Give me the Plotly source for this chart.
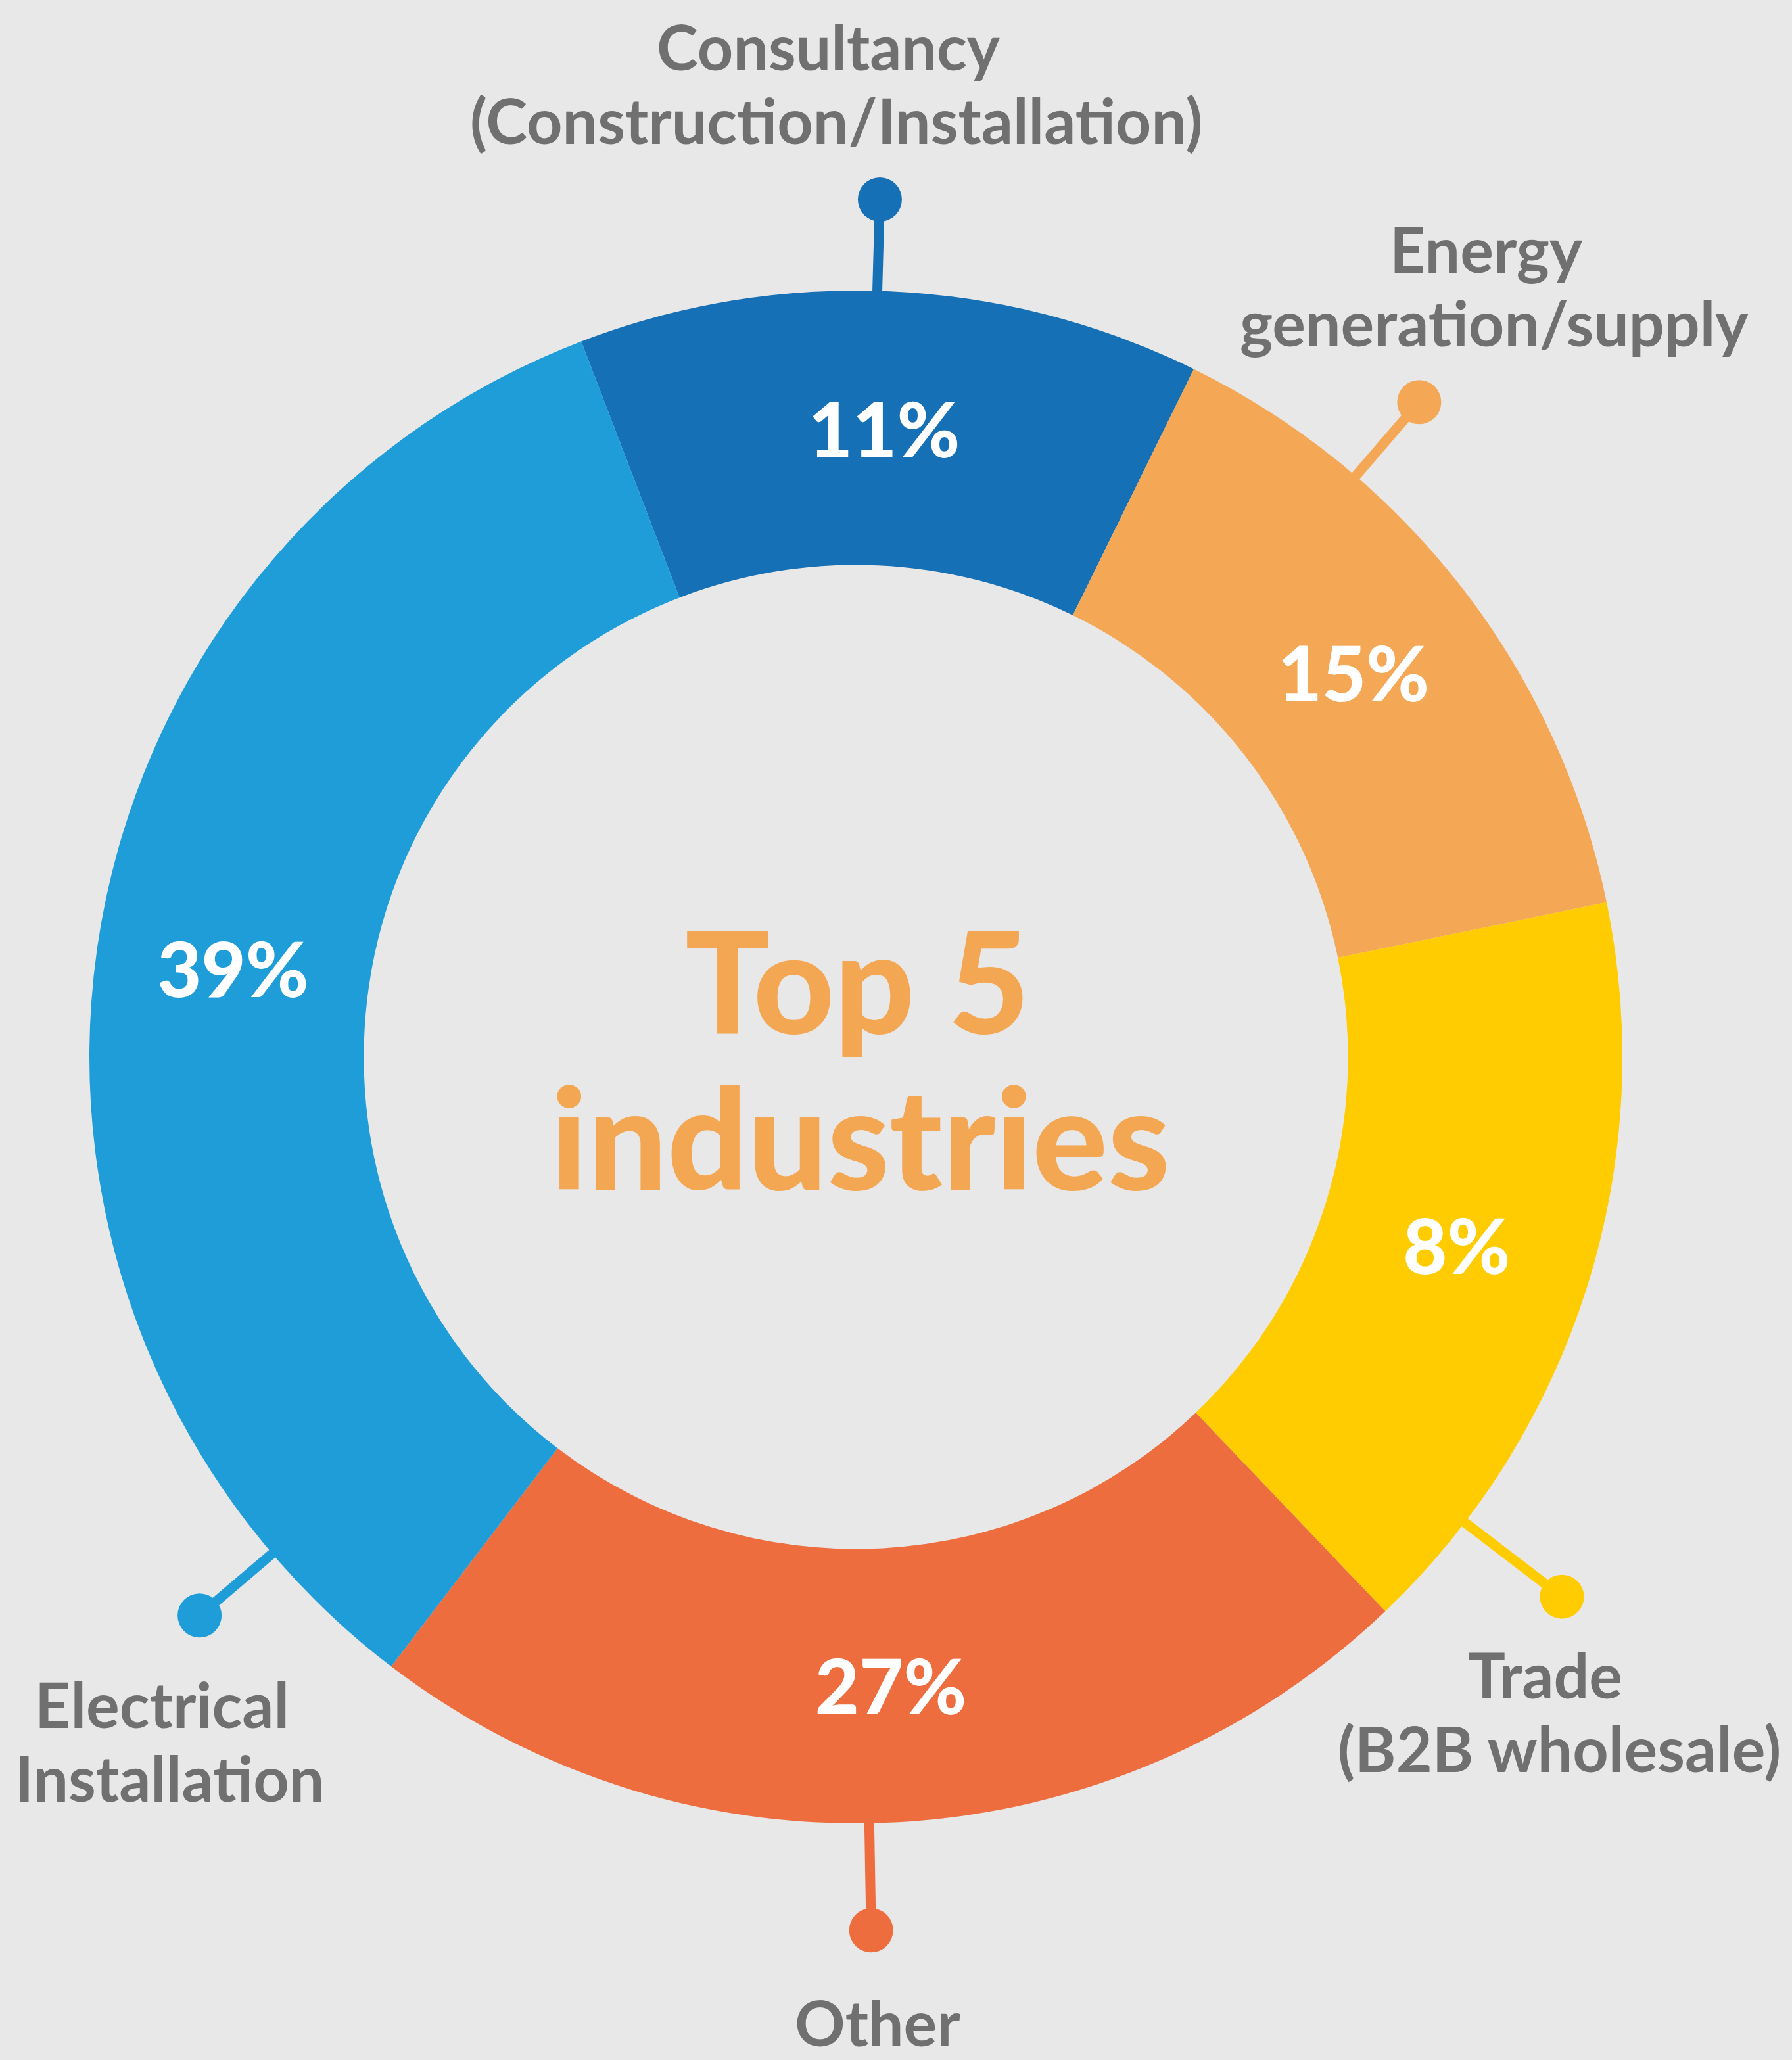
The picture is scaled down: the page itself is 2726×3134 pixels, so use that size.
import math
import plotly.graph_objects as go

# ---------------- data ----------------
industries = [
    "Consultancy (Construction/Installation)",
    "Energy generation/supply",
    "Trade (B2B wholesale)",
    "Other",
    "Electrical Installation",
]
share_labels = [11, 15, 8, 27, 39]              # percentages printed on the slices
slice_sizes = [13.1, 14.5, 16.1, 22.5, 33.8]     # arc shares as drawn in the picture
label_lines = [
    ["Consultancy", "(Construction/Installation)"],
    ["Energy", "generation/supply"],
    ["Trade", "(B2B wholesale)"],
    ["Other"],
    ["Electrical", "Installation"],
]
center_title = ["Top 5", "industries"]

# ---------------- styles / layout ----------------
colors = ["#1670B6", "#F4A754", "#FECC00", "#ED6D3E", "#1E9DD9"]
BG = "#E8E8E8"
GREY = "#707070"
ORANGE = "#F4A752"
FONT = "Lato"

W, H = 2726, 3134
CX, CY, R = 1302, 1608, 1166
HOLE = 0.642
START_DEG = -21.0

# callout geometry (angle clockwise from 12 o'clock, dot radius in px)
callout_angle = [1.6, 40.7, 127.4, 179.0, 229.6]
callout_radius = [1305, 1314, 1352, 1329, 1311]
# label line centres (x, y) in px
label_pos = [
    [(1260, 70), (1272, 182)],
    [(2261, 378), (2273, 490)],
    [(2350, 2547), (2372, 2659)],
    [(1335, 3076)],
    [(246, 2592), (258, 2704)],
]
center_pos = [(1304, 1489), (1309, 1727)]


def polar(angle_deg, r):
    a = math.radians(angle_deg)
    return CX + r * math.sin(a), CY - r * math.cos(a)


fig = go.Figure()

# donut
fig.add_trace(go.Pie(
    labels=industries,
    values=slice_sizes,
    text=[f"{v}%" for v in share_labels],
    texttemplate="%{text}",
    textposition="inside",
    insidetextorientation="horizontal",
    textfont=dict(family=FONT, size=116, color="white", weight=900),
    marker=dict(colors=colors, line=dict(width=0)),
    hole=HOLE,
    sort=False,
    direction="clockwise",
    rotation=START_DEG,
    showlegend=False,
    hoverinfo="label+text",
    domain=dict(
        x=[(CX - R) / W, (CX + R) / W],
        y=[(H - CY - R) / H, (H - CY + R) / H],
    ),
))

# leader lines + dots
for ang, rd, col in zip(callout_angle, callout_radius, colors):
    x0, y0 = polar(ang, R - 4)
    x1, y1 = polar(ang, rd)
    fig.add_trace(go.Scatter(
        x=[x0, x1], y=[y0, y1], mode="lines",
        line=dict(color=col, width=15), showlegend=False, hoverinfo="skip",
    ))
    fig.add_trace(go.Scatter(
        x=[x1], y=[y1], mode="markers",
        marker=dict(color=col, size=67, line=dict(width=0)),
        showlegend=False, hoverinfo="skip",
    ))

annotations = []
for lines, positions in zip(label_lines, label_pos):
    for txt, (x, y) in zip(lines, positions):
        annotations.append(dict(
            x=x, y=y, xref="x", yref="y", text=txt, showarrow=False,
            xanchor="center", yanchor="middle",
            font=dict(family=FONT, size=95, color=GREY, weight=700),
        ))
for txt, (x, y) in zip(center_title, center_pos):
    annotations.append(dict(
        x=x, y=y, xref="x", yref="y", text=txt, showarrow=False,
        xanchor="center", yanchor="middle",
        font=dict(family=FONT, size=214, color=ORANGE, weight=900),
    ))

fig.update_layout(
    width=W, height=H,
    margin=dict(l=0, r=0, t=0, b=0),
    paper_bgcolor=BG, plot_bgcolor="rgba(0,0,0,0)",
    xaxis=dict(range=[0, W], visible=False, fixedrange=True, domain=[0, 1]),
    yaxis=dict(range=[H, 0], visible=False, fixedrange=True, domain=[0, 1]),
    annotations=annotations,
)

fig.write_html(
    "out.html",
    config={"displayModeBar": False},
    post_script="document.body.style.margin='0';document.body.style.overflow='hidden';",
)
